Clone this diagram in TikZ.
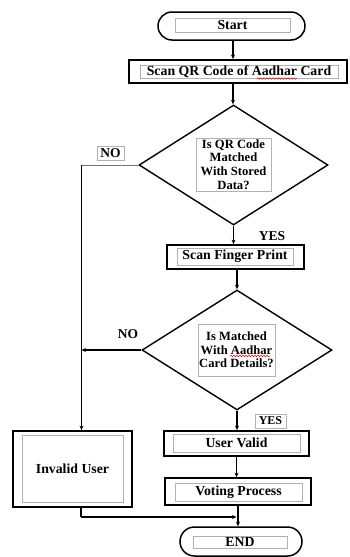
\documentclass[tikz,border=0pt]{standalone}
\usepackage{fontspec}
\setmainfont{Liberation Serif}
\usetikzlibrary{shapes.geometric,shapes.misc,arrows.meta,decorations.pathmorphing}
\begin{document}
\begin{tikzpicture}[x=1pt,y=-1pt,
  outerbox/.style={draw=black,line width=1.8pt,rectangle,inner sep=0pt},
  term/.style={draw=black,line width=1.5pt,rounded rectangle,inner sep=0pt},
  decision/.style={draw=black,line width=1.4pt,diamond,inner sep=0pt},
  innerbox/.style={draw=black!30,line width=0.7pt,rectangle,inner sep=0pt,align=center,font=\fontsize{13.8}{15}\selectfont\bfseries},
  dtext/.style={draw=black!30,line width=0.7pt,rectangle,inner sep=0pt,align=center,font=\fontsize{12.6}{13.6}\selectfont\bfseries},
  lab/.style={inner sep=1pt,font=\fontsize{13.5}{15}\selectfont\bfseries},
  conn/.style={draw=black,line width=1.1pt,-{Stealth[length=4.5pt,width=4pt]}},
  plain/.style={draw=black,line width=1.1pt},
  wavy/.style={draw=red,line width=0.5pt,decorate,decoration={snake,amplitude=0.8pt,segment length=3pt}}
]
\useasboundingbox (0,0) rectangle (349,557);
\fill[white] (0,0) rectangle (349,557);

% Start
\node[term,minimum width=147pt,minimum height=28pt] (start) at (231.5,26) {};
\node[innerbox,minimum width=115pt,minimum height=14pt] (starttxt) at (232.5,25) {Start};

% Scan QR
\node[outerbox,minimum width=218pt,minimum height=23pt] (scan) at (238,71.5) {};
\node[innerbox,minimum width=198pt,minimum height=13pt] (scantxt) at (239,71.5) {Scan QR Code of Aadhar Card};

% Decision 1
\node[decision,minimum width=189pt,minimum height=120pt] (d1) at (233.5,165) {};
\node[dtext,minimum width=75pt,minimum height=53pt] (d1txt) at (233.5,164.5) {Is QR Code\\Matched\\With Stored\\Data?};

% Scan finger
\node[outerbox,minimum width=137pt,minimum height=24pt] (finger) at (235.5,257) {};
\node[innerbox,minimum width=116pt,minimum height=17pt] (fingertxt) at (235,256.5) {Scan Finger Print};

% Decision 2
\node[decision,minimum width=190pt,minimum height=120pt] (d2) at (237,350) {};
\node[dtext,minimum width=77pt,minimum height=52pt] (d2txt) at (236.5,350) {Is Matched\\With Aadhar\\Card Details?};

% User valid
\node[outerbox,minimum width=145pt,minimum height=25pt] (valid) at (236.5,443.5) {};
\node[innerbox,minimum width=127pt,minimum height=18pt] (validtxt) at (236.5,443) {User Valid};

% Voting
\node[outerbox,minimum width=146pt,minimum height=27pt] (vote) at (238,491.5) {};
\node[innerbox,minimum width=127pt,minimum height=18pt] (votetxt) at (238.5,492) {Voting Process};

% End
\node[term,minimum width=122pt,minimum height=29pt] (end) at (241,541.5) {};
\node[innerbox,minimum width=94pt,minimum height=12pt] (endtxt) at (240,542) {END};

% Invalid
\node[outerbox,minimum width=119pt,minimum height=76pt] (invalid) at (72.5,469) {};
\node[innerbox,minimum width=101pt,minimum height=67pt] (invalidtxt) at (72.5,468.5) {Invalid User};

% Labels
\node[lab,draw=black!30,line width=0.7pt,minimum width=27pt,minimum height=14pt] (no1) at (110.5,153) {NO};
\node[lab] (yes1) at (272,236) {YES};
\node[lab] (no2) at (128,334) {NO};
\node[lab,draw=black!30,line width=0.7pt,minimum width=31pt,minimum height=14pt,font=\fontsize{12}{13}\selectfont\bfseries] (yes2) at (270.5,421) {YES};

% junction coordinates
\coordinate (j1) at (81.5,165);
\coordinate (j2) at (81,517);

% Connectors
\draw[conn] (start.south -| 233,0) -- (233,0 |- scan.north);
\draw[conn] (scan.south -| 233,0) -- (d1.north -| 233,0);
\draw[conn] (d1.south) -- (d1.south |- finger.north);
\draw[conn] (finger.south -| d2.north) -- (d2.north);
\draw[conn] (d2.south) -- (d2.south |- valid.north);
\draw[conn] (valid.south -| 236.5,0) -- (236.5,0 |- vote.north);
\draw[conn] (vote.south -| end.north) ++(-3,0) coordinate (vs) -- (vs |- end.north);
\draw[draw=black!55,line width=1pt] (d1.west) -- (j1);
\draw[conn] (j1) -- (j1 |- invalid.north);
\draw[conn] (d2.west) -- (d2.west -| j1);
\draw[plain] (j2 |- invalid.south) -- (j2);
\draw[conn,shorten >=1.5pt] (j2) -- (j2 -| vs);

% spell-check underline
\draw[wavy] (257,78.5) -- (297,78.5);
\draw[wavy] (230,356) -- (270,356);
\end{tikzpicture}
\end{document}
